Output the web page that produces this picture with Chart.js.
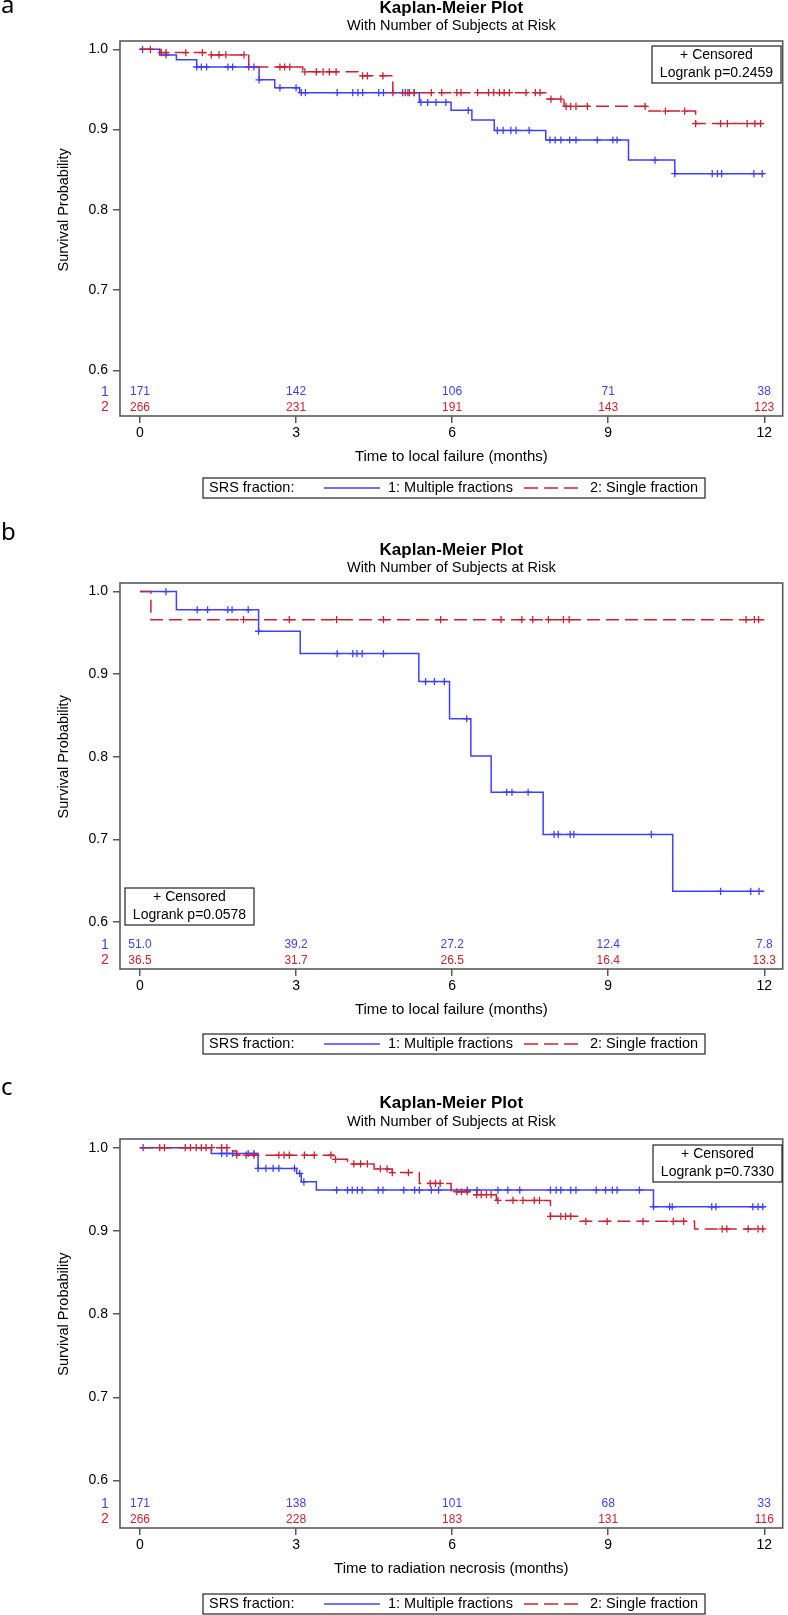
<!DOCTYPE html>
<html>
<head>
<meta charset="utf-8">
<title>Kaplan-Meier plots</title>
<script src="https://cdn.jsdelivr.net/npm/chart.js@4.4.1/dist/chart.umd.min.js"></script>
<style>
  body { margin: 0; background: #fff; }
  #page { position: relative; width: 788px; height: 1615px; overflow: hidden; }
  .panel { position: absolute; left: 0; width: 788px; }
  .tag { position: absolute; left: 1px; font-family: "Noto Sans", sans-serif; font-size: 24px; line-height: 24px; color: #000; }
</style>
</head>
<body>
<div id="page">
  <div class="panel" style="top:0px;height:500px"><canvas id="chartA" width="788" height="500"></canvas></div>
  <div class="panel" style="top:519px;height:540px"><canvas id="chartB" width="788" height="540"></canvas></div>
  <div class="panel" style="top:1075px;height:540px"><canvas id="chartC" width="788" height="540"></canvas></div>
  <div class="tag" style="top:-8px">a</div>
  <div class="tag" style="top:519px">b</div>
  <div class="tag" style="top:1074px">c</div>
</div>
<script>
/* Data: months, survival probability */
const x_ticks = [0, 3, 6, 9, 12];
const y_ticks = [0.6, 0.7, 0.8, 0.9, 1.0];
const risk_times = [0, 3, 6, 9, 12];

// a) local failure, number at risk
const a_blue_times = [0, 0.38, 0.70, 1.09, 2.29, 2.59, 3.07, 5.37, 5.98, 6.38, 6.81, 7.80, 9.39, 10.28, 12];
const a_blue_surv = [1.0, 0.993, 0.987, 0.978, 0.962, 0.952, 0.946, 0.934, 0.924, 0.912, 0.899, 0.887, 0.862, 0.845, 0.845];
const a_blue_censor = [0.05, 0.5, 1.09, 1.18, 1.28, 1.69, 1.78, 2.09, 2.19, 2.29, 2.69, 3.0, 3.10, 3.18, 3.79, 4.09, 4.19, 4.28, 4.59, 4.68,
  5.05, 5.15, 5.27, 5.40, 5.53, 5.69, 5.88, 6.31, 6.87, 6.98, 7.13, 7.23, 7.48, 7.88, 7.98, 8.09, 8.26, 8.38, 8.79, 9.09, 9.17,
  9.90, 10.28, 11.0, 11.1, 11.18, 11.8, 11.96];
const a_red_times = [0, 0.38, 1.31, 2.09, 3.13, 4.19, 4.86, 7.80, 8.15, 9.78, 10.68, 12];
const a_red_surv = [1.0, 0.996, 0.993, 0.978, 0.972, 0.967, 0.946, 0.938, 0.929, 0.923, 0.9075, 0.9075];
const a_red_censor = [0.2, 0.41, 0.5, 0.88, 1.2, 1.37, 1.52, 1.65, 2.0, 2.69, 2.78, 2.88, 3.17, 3.39, 3.52, 3.64, 3.77, 4.28, 4.37, 4.67,
  4.86, 5.10, 5.18, 5.27, 5.6, 5.8, 6.09, 6.17, 6.49, 6.70, 6.80, 6.91, 7.0, 7.1, 7.42, 7.6, 7.69, 7.90, 8.09, 8.19, 8.28, 8.38,
  8.60, 9.71, 10.1, 10.47, 10.68, 11.16, 11.29, 11.67, 11.82, 11.93];
const a_risk_1 = ['171', '142', '106', '71', '38'];
const a_risk_2 = ['266', '231', '191', '143', '123'];

// b) local failure, person-time at risk
const b_blue_times = [0, 0.70, 2.28, 3.08, 5.36, 5.95, 6.36, 6.75, 7.75, 10.24, 12];
const b_blue_surv = [1.0, 0.978, 0.952, 0.925, 0.891, 0.846, 0.801, 0.757, 0.706, 0.637, 0.637];
const b_blue_censor = [0.5, 1.10, 1.30, 1.69, 1.77, 2.08, 2.28, 3.79, 4.09, 4.17, 4.27, 4.68, 5.49, 5.66, 5.85, 6.28, 7.05, 7.15, 7.46,
  7.96, 8.04, 8.27, 8.34, 9.83, 11.16, 11.74, 11.9];
const b_red_times = [0, 0.21, 12];
const b_red_surv = [1.0, 0.966, 0.966];
const b_red_censor = [1.99, 2.87, 3.78, 4.68, 5.78, 6.94, 7.34, 7.55, 7.85, 8.14, 8.25, 11.65, 11.81, 11.89];
const b_risk_1 = ['51.0', '39.2', '27.2', '12.4', '7.8'];
const b_risk_2 = ['36.5', '31.7', '26.5', '16.4', '13.3'];

// c) radiation necrosis
const c_blue_times = [0, 1.37, 2.27, 3.01, 3.10, 3.39, 9.87, 12];
const c_blue_surv = [1.0, 0.993, 0.975, 0.969, 0.959, 0.949, 0.929, 0.929];
const c_blue_censor = [0.06, 1.57, 1.67, 1.78, 2.08, 2.19, 2.27, 2.42, 2.56, 2.67, 2.97, 3.07, 3.15, 3.78, 3.99, 4.08, 4.18, 4.27,
  4.58, 4.67, 5.07, 5.28, 5.37, 5.60, 5.74, 6.29, 6.48, 6.88, 7.07, 7.30, 7.89, 8.0, 8.09, 8.28, 8.38, 8.77, 8.95, 9.08, 9.17,
  9.60, 9.87, 10.18, 10.23, 10.99, 11.07, 11.78, 11.88, 11.97];
const c_red_times = [0, 1.78, 1.86, 3.73, 3.99, 4.50, 4.85, 5.37, 5.98, 6.37, 6.85, 7.89, 8.44, 10.66, 12];
const c_red_surv = [1.0, 0.996, 0.991, 0.986, 0.9805, 0.9745, 0.970, 0.957, 0.947, 0.9435, 0.9366, 0.9175, 0.9115, 0.9024, 0.9024];
const c_red_censor = [0.38, 0.47, 0.87, 0.97, 1.08, 1.18, 1.27, 1.38, 1.57, 1.67, 1.86, 2.04, 2.19, 2.67, 2.77, 2.87, 3.16, 3.35,
  3.67, 3.76, 4.11, 4.24, 4.37, 4.62, 4.75, 4.85, 5.16, 5.58, 5.68, 5.77, 6.09, 6.18, 6.29, 6.47, 6.56, 6.66, 6.75, 6.88, 7.17,
  7.36, 7.58, 7.68, 7.89, 8.09, 8.18, 8.28, 8.57, 8.98, 9.67, 10.25, 10.45, 11.19, 11.28, 11.69, 11.88, 11.97];
const c_risk_1 = ['171', '138', '101', '68', '33'];
const c_risk_2 = ['266', '228', '183', '131', '116'];

/* Look */
const blue = 'rgb(64, 64, 250)';
const red = 'rgb(204, 34, 52)';
const frame_color = '#5a5a5a';
const font_family = '"Liberation Sans", Arial, sans-serif';
const x_min = -0.384, x_max = 12.354;
const y_min = 0.543, y_max = 1.0104;

// value of a step curve at time t (a step at t counts already)
const survivalAt = (times, surv, t) => {
  let s = surv[0];
  for (let i = 0; i < times.length; i++) {
    if (times[i] <= t + 1e-9) s = surv[i];
  }
  return s;
};

// horizontal first, then the drop: Chart.js calls this 'before'
const stepSet = (times, surv, color, dashed) => ({
  data: times.map((t, i) => ({x: t, y: surv[i]})),
  borderColor: color,
  borderWidth: 1.5,
  borderDash: dashed ? [13, 6] : [],
  stepped: 'before',
  pointRadius: 0,
  fill: false
});

const censorSet = (times, surv, censor, color) => ({
  data: censor.map(t => ({x: t, y: survivalAt(times, surv, t)})),
  showLine: false,
  pointStyle: 'cross',
  pointRadius: 3.6,
  pointBorderWidth: 1.3,
  pointBorderColor: color,
  borderColor: color
});

/* Texts and boxes that sit around the plot area */
const kmExtras = {
  id: 'kmExtras',
  afterDraw(chart, args, opts) {
    const {ctx, chartArea: area} = chart;
    const xs = chart.scales.x, ys = chart.scales.y;
    const mid_x = (area.left + area.right) / 2;
    ctx.save();

    ctx.strokeStyle = frame_color;
    ctx.lineWidth = 1.6;
    ctx.strokeRect(area.left, area.top, area.right - area.left, area.bottom - area.top);

    ctx.textAlign = 'center';
    ctx.textBaseline = 'middle';
    ctx.fillStyle = '#000';
    ctx.font = 'bold 17px ' + font_family;
    ctx.fillText('Kaplan-Meier Plot', mid_x, area.top + opts.title_dy);
    ctx.font = '14.5px ' + font_family;
    ctx.fillText('With Number of Subjects at Risk', mid_x, area.top + opts.subtitle_dy);

    // y axis title, centred on the 0.6 - 1.0 range
    const y_mid = (ys.getPixelForValue(0.6) + ys.getPixelForValue(1.0)) / 2;
    ctx.save();
    ctx.translate(64, y_mid);
    ctx.rotate(-Math.PI / 2);
    ctx.font = '14.5px ' + font_family;
    ctx.fillText('Survival Probability', 0, 0);
    ctx.restore();

    // at-risk rows
    const row_1 = area.bottom - 24.3, row_2 = area.bottom - 8.7;
    ctx.font = '14px ' + font_family;
    ctx.fillStyle = blue;
    ctx.fillText('1', 105, row_1);
    ctx.fillStyle = red;
    ctx.fillText('2', 105, row_2);
    ctx.font = '12px ' + font_family;
    risk_times.forEach((t, i) => {
      const px = xs.getPixelForValue(t);
      ctx.fillStyle = blue;
      ctx.fillText(opts.risk_1[i], px, row_1);
      ctx.fillStyle = red;
      ctx.fillText(opts.risk_2[i], px, row_2);
    });

    // censored / logrank box
    const ib = opts.inset;
    ctx.strokeStyle = '#222';
    ctx.lineWidth = 1.2;
    ctx.fillStyle = '#fff';
    ctx.fillRect(ib.left, ib.top, 129, 37);
    ctx.strokeRect(ib.left, ib.top, 129, 37);
    ctx.fillStyle = '#000';
    ctx.font = '14px ' + font_family;
    ctx.fillText('+ Censored', ib.left + 64.5, ib.top + 9.5);
    ctx.fillText(opts.logrank, ib.left + 64.5, ib.top + 27);

    // legend
    const lt = opts.legend_top, ly = lt + 10;
    ctx.strokeRect(203, lt, 502, 20);
    ctx.textAlign = 'left';
    ctx.font = '14.5px ' + font_family;
    ctx.fillText('SRS fraction:', 209, ly);
    ctx.fillText('1: Multiple fractions', 388, ly);
    ctx.fillText('2: Single fraction', 590, ly);
    ctx.lineWidth = 1.5;
    ctx.strokeStyle = blue;
    ctx.beginPath(); ctx.moveTo(324, ly); ctx.lineTo(380, ly); ctx.stroke();
    ctx.strokeStyle = red;
    ctx.setLineDash([14, 6]);
    ctx.beginPath(); ctx.moveTo(524, ly); ctx.lineTo(578, ly); ctx.stroke();
    ctx.restore();
  }
};

const buildKM = (canvas_id, p) => {
  const ctx = document.getElementById(canvas_id).getContext('2d');
  return new Chart(ctx, {
    type: 'line',
    data: {
      datasets: [
        censorSet(p.red_times, p.red_surv, p.red_censor, red),
        stepSet(p.red_times, p.red_surv, red, true),
        censorSet(p.blue_times, p.blue_surv, p.blue_censor, blue),
        stepSet(p.blue_times, p.blue_surv, blue, false)
      ]
    },
    options: {
      responsive: false,
      animation: false,
      layout: {padding: {top: p.pad_top, bottom: p.pad_bottom, left: 0, right: 4}},
      plugins: {
        legend: {display: false},
        tooltip: {enabled: false},
        kmExtras: {
          title_dy: p.title_dy, subtitle_dy: p.subtitle_dy,
          risk_1: p.risk_1, risk_2: p.risk_2,
          inset: p.inset, logrank: p.logrank, legend_top: p.legend_top
        }
      },
      scales: {
        x: {
          type: 'linear', min: x_min, max: x_max,
          afterBuildTicks: s => { s.ticks = x_ticks.map(v => ({value: v})); },
          afterFit: s => { s.height = 50; },
          border: {display: false},
          grid: {drawOnChartArea: false, tickLength: 7, color: frame_color, lineWidth: 1.5},
          ticks: {padding: 2, color: '#000', font: {family: font_family, size: 14}, callback: v => v},
          title: {display: true, text: p.x_title, color: '#000', padding: 0, font: {family: font_family, size: 15}}
        },
        y: {
          type: 'linear', min: y_min, max: y_max,
          afterBuildTicks: s => { s.ticks = y_ticks.map(v => ({value: v})); },
          afterFit: s => { s.width = 120; },
          border: {display: false},
          grid: {drawOnChartArea: false, tickLength: 7, color: frame_color, lineWidth: 1.5},
          ticks: {padding: 5, color: '#000', font: {family: font_family, size: 14}, callback: v => v.toFixed(1)}
        }
      }
    },
    plugins: [kmExtras]
  });
};

/* main */
buildKM('chartA', {
  blue_times: a_blue_times, blue_surv: a_blue_surv, blue_censor: a_blue_censor,
  red_times: a_red_times, red_surv: a_red_surv, red_censor: a_red_censor,
  risk_1: a_risk_1, risk_2: a_risk_2,
  x_title: 'Time to local failure (months)', logrank: 'Logrank p=0.2459',
  pad_top: 41, pad_bottom: 34, title_dy: -32.5, subtitle_dy: -15,
  inset: {left: 652, top: 46}, legend_top: 478
});
buildKM('chartB', {
  blue_times: b_blue_times, blue_surv: b_blue_surv, blue_censor: b_blue_censor,
  red_times: b_red_times, red_surv: b_red_surv, red_censor: b_red_censor,
  risk_1: b_risk_1, risk_2: b_risk_2,
  x_title: 'Time to local failure (months)', logrank: 'Logrank p=0.0578',
  pad_top: 64, pad_bottom: 40, title_dy: -32.5, subtitle_dy: -15,
  inset: {left: 125, top: 369}, legend_top: 515
});
buildKM('chartC', {
  blue_times: c_blue_times, blue_surv: c_blue_surv, blue_censor: c_blue_censor,
  red_times: c_red_times, red_surv: c_red_surv, red_censor: c_red_censor,
  risk_1: c_risk_1, risk_2: c_risk_2,
  x_title: 'Time to radiation necrosis (months)', logrank: 'Logrank p=0.7330',
  pad_top: 64, pad_bottom: 37, title_dy: -35.7, subtitle_dy: -17.3,
  inset: {left: 653, top: 70}, legend_top: 519
});
</script>
</body>
</html>
